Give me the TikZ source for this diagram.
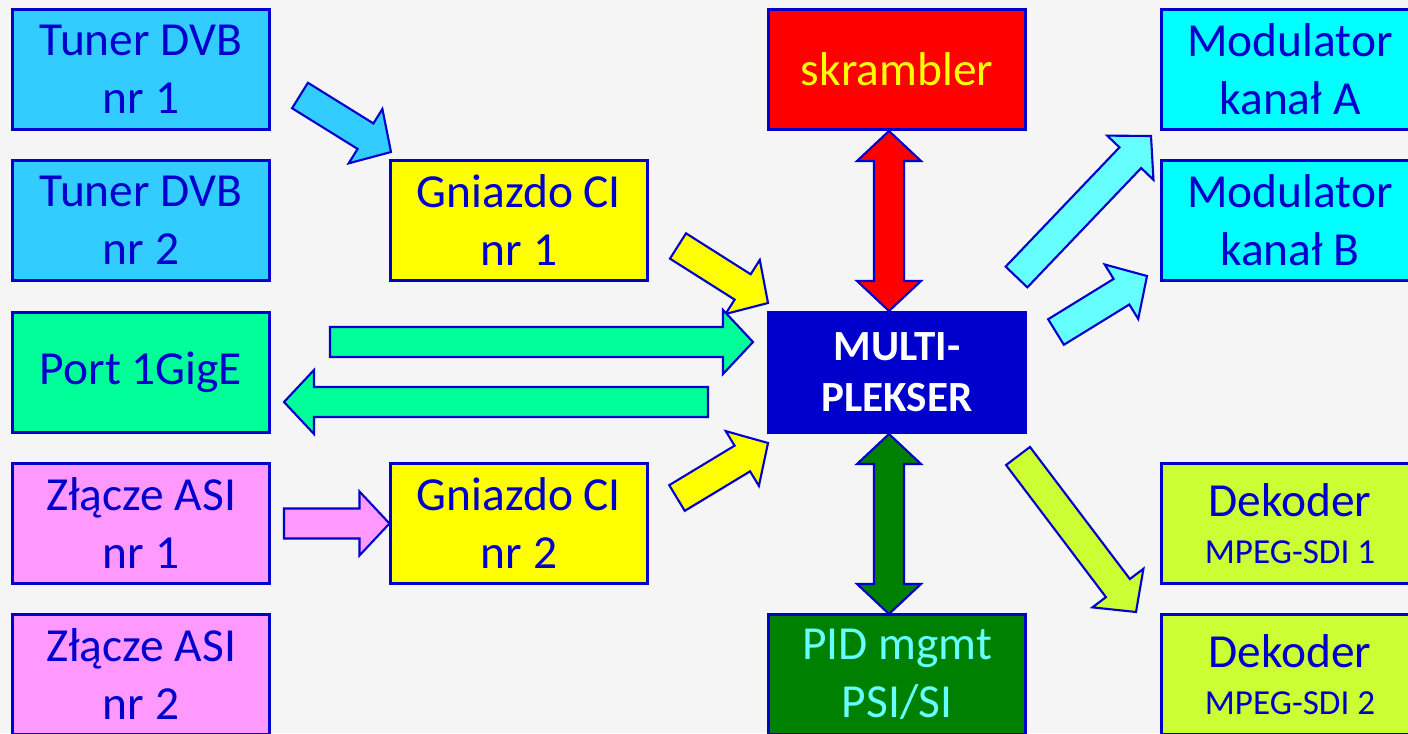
\documentclass[tikz,border=0pt]{standalone}
\usepackage{fontspec}
\setmainfont{Carlito}
\usetikzlibrary{calc}

\definecolor{ramka}{HTML}{0000CC}
\definecolor{tlo}{HTML}{F5F5F5}
\definecolor{tuner}{HTML}{33CCFF}
\definecolor{gige}{HTML}{00FF99}
\definecolor{asi}{HTML}{FF99FF}
\definecolor{gniazdo}{HTML}{FFFF00}
\definecolor{skr}{HTML}{FF0000}
\definecolor{pid}{HTML}{008000}
\definecolor{jasnycyan}{HTML}{66FFFF}
\definecolor{modul}{HTML}{00FFFF}
\definecolor{dek}{HTML}{CCFF33}

% block arrows: #1 fill, #2 tail, #3 tip
\newcommand{\strzala}[3]{%
  \coordinate (hb) at ($(#3)!0.6cm!(#2)$);
  \filldraw[fill=#1, obrys]
    ($(#2)!0.3cm!90:(#3)$) -- ($(hb)!0.3cm!90:(#3)$) -- ($(hb)!0.64cm!90:(#3)$) -- (#3)
    -- ($(hb)!0.64cm!-90:(#3)$) -- ($(hb)!0.3cm!-90:(#3)$) -- ($(#2)!0.3cm!-90:(#3)$) -- cycle;
}
\newcommand{\dwustrzala}[3]{%
  \coordinate (ha) at ($(#2)!0.6cm!(#3)$);
  \coordinate (hb) at ($(#3)!0.6cm!(#2)$);
  \filldraw[fill=#1, obrys]
    (#2) -- ($(ha)!0.64cm!90:(#3)$) -- ($(ha)!0.3cm!90:(#3)$) -- ($(hb)!0.3cm!90:(#3)$)
    -- ($(hb)!0.64cm!90:(#3)$) -- (#3) -- ($(hb)!0.64cm!-90:(#3)$) -- ($(hb)!0.3cm!-90:(#3)$)
    -- ($(ha)!0.3cm!-90:(#3)$) -- ($(ha)!0.64cm!-90:(#3)$) -- cycle;
}

\begin{document}
\begin{tikzpicture}[x=0.02cm, y=-0.02cm,
    blok/.style={draw=ramka, line width=1.2pt, minimum width=5.14cm, minimum height=2.4cm,
      inner sep=0pt, align=center, text=ramka, font=\fontsize{27}{33}\selectfont},
    obrys/.style={draw=ramka, line width=1.2pt, line join=miter}]
  \useasboundingbox (0,0) rectangle (1408,733);
  \fill[tlo] (0,0) rectangle (1408,733);

  \node[blok, fill=tuner]   (tun1) at (141,69.5)  {Tuner DVB\\nr 1};
  \node[blok, fill=tuner]   (tun2) at (141,220.5) {Tuner DVB\\nr 2};
  \node[blok, fill=gige]    (port) at (141,372.5) {Port 1GigE};
  \node[blok, fill=asi]     (asi1) at (141,523.5) {Złącze ASI\\nr 1};
  \node[blok, fill=asi]     (asi2) at (141,674.5) {Złącze ASI\\nr 2};

  \node[blok, fill=gniazdo] (ci1)  at (519,220.5) {Gniazdo CI\\nr 1};
  \node[blok, fill=gniazdo] (ci2)  at (519,523.5) {Gniazdo CI\\nr 2};

  \node[blok, fill=skr, text=gniazdo] (skr) at (897,69.5) {skrambler};
  \node[blok, fill=ramka, text=white, font=\bfseries\fontsize{24.5}{29}\selectfont] (mux) at (897,372.5) {MULTI-\\PLEKSER};
  \node[blok, fill=pid, text=jasnycyan] (pid) at (897,674.5) {PID mgmt\\PSI/SI};

  \node[blok, fill=modul]   (modA) at (1290,69.5)  {Modulator\\kanał A};
  \node[blok, fill=modul]   (modB) at (1290,220.5) {Modulator\\kanał B};
  \node[blok, fill=dek]     (dek1) at (1290,523.5) {Dekoder\\[-6pt]{\fontsize{20}{24}\selectfont MPEG-SDI 1}};
  \node[blok, fill=dek]     (dek2) at (1290,674.5) {Dekoder\\[-6pt]{\fontsize{20}{24}\selectfont MPEG-SDI 2}};

  \coordinate (t1) at (300,95.5);   \coordinate (c1) at (391,152);
  \coordinate (g1) at (678,246);    \coordinate (m1) at (768,303);
  \coordinate (p1) at (330,342);    \coordinate (m2) at (753,342);
  \coordinate (m3) at (708,402);    \coordinate (p2) at (284,402);
  \coordinate (g2) at (677,498);    \coordinate (m4) at (768,443);
  \coordinate (a1) at (284,523.5);
  \coordinate (s1) at (889,131);    \coordinate (m5) at (889,311);
  \coordinate (m6) at (889,434);    \coordinate (d1) at (889,614);
  \coordinate (m7) at (1016.5,277); \coordinate (o1) at (1151,136);
  \coordinate (m8) at (1056,332);   \coordinate (o2) at (1147,276);
  \coordinate (m9) at (1018,456);   \coordinate (k1) at (1136,612);

  \strzala{tuner}{t1}{c1}
  \strzala{gniazdo}{g1}{m1}
  \strzala{gige}{p1}{m2}
  \strzala{gige}{m3}{p2}
  \strzala{gniazdo}{g2}{m4}
  \strzala{asi}{a1}{ci2.west}
  \dwustrzala{skr}{s1}{m5}
  \dwustrzala{pid}{m6}{d1}
  \strzala{jasnycyan}{m7}{o1}
  \strzala{jasnycyan}{m8}{o2}
  \strzala{dek}{m9}{k1}
\end{tikzpicture}
\end{document}
